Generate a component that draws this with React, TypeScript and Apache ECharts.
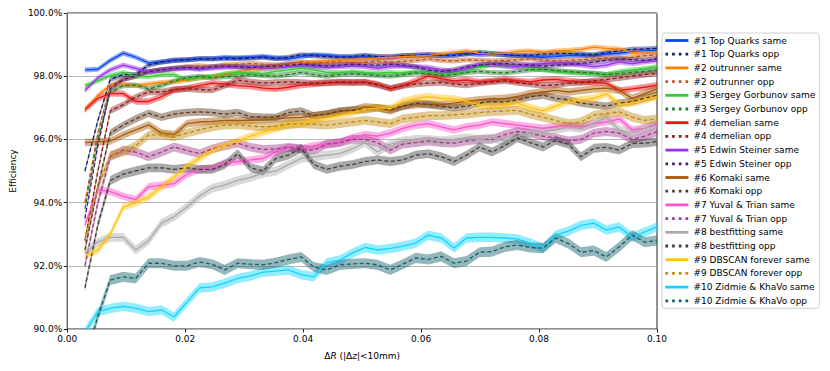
import React, { useEffect, useRef } from "react";
import * as echarts from "echarts";

const deltaR = [
  0.003, 0.0052, 0.0073, 0.0095, 0.0116, 0.0138, 0.016, 0.0181, 0.0203, 0.0224,
  0.0246, 0.0267, 0.0289, 0.0311, 0.0332, 0.0354, 0.0375, 0.0397, 0.0418, 0.044,
  0.0462, 0.0483, 0.0505, 0.0526, 0.0548, 0.0569, 0.0591, 0.0612, 0.0634, 0.0656,
  0.0677, 0.0699, 0.072, 0.0742, 0.0763, 0.0785, 0.0807, 0.0828, 0.085, 0.0871,
  0.0893, 0.0914, 0.0936, 0.0958, 0.0979, 0.1,
];

const topQuarksSame = [
  98.2, 98.22, 98.5, 98.73, 98.6, 98.42, 98.45, 98.5, 98.52, 98.55,
  98.55, 98.6, 98.58, 98.6, 98.62, 98.58, 98.55, 98.62, 98.68, 98.66,
  98.62, 98.6, 98.62, 98.6, 98.62, 98.65, 98.66, 98.68, 98.65, 98.7,
  98.72, 98.68, 98.7, 98.68, 98.66, 98.62, 98.6, 98.62, 98.65, 98.66,
  98.65, 98.7, 98.72, 98.78, 98.8, 98.82,
];
const topQuarksOpp = [
  95.0, 96.6, 97.9, 98.05, 98.05, 98.35, 98.45, 98.5, 98.52, 98.55,
  98.55, 98.55, 98.56, 98.57, 98.6, 98.55, 98.6, 98.68, 98.65, 98.62,
  98.6, 98.62, 98.66, 98.62, 98.6, 98.65, 98.66, 98.68, 98.66, 98.65,
  98.7, 98.76, 98.72, 98.68, 98.65, 98.66, 98.7, 98.72, 98.72, 98.7,
  98.68, 98.75, 98.8, 98.85, 98.86, 98.88,
];
const outrunnerSame = [
  96.9, 97.4, 97.7, 97.75, 97.7, 97.75, 97.8, 97.82, 97.88, 97.94,
  97.98, 98.05, 98.13, 98.2, 98.25, 98.3, 98.35, 98.42, 98.45, 98.47,
  98.5, 98.52, 98.55, 98.58, 98.6, 98.62, 98.64, 98.66, 98.7, 98.74,
  98.8, 98.72, 98.7, 98.72, 98.78, 98.8, 98.76, 98.8, 98.82, 98.85,
  98.92, 98.88, 98.86, 98.75, 98.78, 98.77,
];
const outrunnerOpp = [
  94.0, 96.2, 97.7, 97.9, 98.0, 98.15, 98.2, 98.25, 98.3, 98.33,
  98.3, 98.35, 98.38, 98.4, 98.38, 98.35, 98.4, 98.45, 98.42, 98.43,
  98.45, 98.42, 98.45, 98.48, 98.45, 98.47, 98.5, 98.55, 98.5, 98.48,
  98.52, 98.5, 98.48, 98.5, 98.52, 98.55, 98.5, 98.48, 98.5, 98.52,
  98.55, 98.58, 98.55, 98.6, 98.65, 98.68,
];
const sergeySame = [
  97.7, 97.85, 98.02, 98.12, 98.0, 97.98, 98.05, 98.05, 97.88, 97.95,
  98.0, 98.08, 98.12, 98.1, 98.08, 98.15, 98.2, 98.26, 98.2, 98.12,
  98.12, 98.15, 98.12, 98.1, 98.12, 98.1, 98.15, 98.12, 98.05, 98.1,
  98.15, 98.3, 98.35, 98.32, 98.3, 98.25, 98.2, 98.15, 98.12, 98.1,
  98.08, 98.05, 98.15, 98.2, 98.25, 98.3,
];
const sergeyOpp = [
  93.8, 96.0, 97.5, 97.7, 97.72, 97.6, 97.7, 97.85, 97.95, 98.0,
  97.95, 97.98, 98.0, 98.05, 98.02, 98.0, 98.05, 98.12, 98.05, 98.0,
  98.05, 98.08, 98.05, 98.02, 98.0, 98.05, 98.1, 98.08, 98.02, 98.05,
  98.12, 98.15, 98.12, 98.1, 98.15, 98.2, 98.22, 98.18, 98.15, 98.12,
  98.1, 98.05, 98.08, 98.12, 98.15, 98.2,
];
const demelianSame = [
  96.95, 97.3, 97.45, 97.45, 97.2, 97.2, 97.35, 97.56, 97.62, 97.7,
  97.78, 97.75, 97.7, 97.68, 97.62, 97.6, 97.65, 97.72, 97.75, 97.78,
  97.8, 97.8, 97.82, 97.75, 97.6, 97.7, 97.85, 98.0, 97.92, 97.85,
  97.88, 97.82, 97.85, 97.9, 97.85, 97.82, 97.88, 97.9, 97.85, 97.82,
  97.8, 97.78, 97.55, 97.6, 97.65, 97.72,
];
const demelianOpp = [
  92.8, 95.0, 96.9, 97.1, 97.34, 97.5, 97.5, 97.58, 97.6, 97.58,
  97.56, 97.7, 97.88, 97.82, 97.78, 97.8, 97.82, 97.8, 97.78, 97.8,
  97.82, 97.8, 97.8, 97.72, 97.62, 97.7, 97.75, 97.78, 97.8, 97.75,
  97.72, 97.78, 97.82, 97.85, 97.8, 97.75, 97.7, 97.72, 97.78, 97.8,
  97.85, 97.9, 97.95, 98.0, 98.05, 98.1,
];
const edwinSame = [
  97.55, 97.95, 98.2, 98.35, 98.25, 98.13, 98.2, 98.22, 98.25, 98.22,
  98.25, 98.28, 98.3, 98.28, 98.25, 98.28, 98.32, 98.35, 98.3, 98.28,
  98.3, 98.32, 98.3, 98.25, 98.3, 98.32, 98.3, 98.28, 98.2, 98.15,
  98.25, 98.35, 98.38, 98.32, 98.3, 98.35, 98.4, 98.42, 98.4, 98.35,
  98.3, 98.35, 98.45, 98.4, 98.45, 98.5,
];
const edwinOpp = [
  93.5, 95.8, 97.6, 97.9, 98.0, 98.15, 98.2, 98.25, 98.28, 98.25,
  98.3, 98.32, 98.3, 98.28, 98.3, 98.32, 98.35, 98.38, 98.35, 98.32,
  98.35, 98.38, 98.36, 98.35, 98.38, 98.35, 98.3, 98.2, 98.15, 98.2,
  98.3, 98.35, 98.38, 98.4, 98.38, 98.35, 98.32, 98.35, 98.38, 98.4,
  98.45, 98.5, 98.55, 98.52, 98.5, 98.55,
];
const komakiSame = [
  95.9, 95.92, 95.95, 96.14, 96.3, 96.46, 96.2, 96.15, 96.5, 96.55,
  96.57, 96.6, 96.6, 96.6, 96.62, 96.65, 96.68, 96.7, 96.75, 96.8,
  96.88, 96.93, 97.03, 97.0, 96.9, 97.05, 97.1, 97.12, 97.1, 97.15,
  97.2, 97.25, 97.28, 97.3, 97.35, 97.45, 97.5, 97.55, 97.5, 97.55,
  97.6, 97.62, 97.55, 97.3, 97.45, 97.6,
];
const komakiOpp = [
  92.5, 94.5, 96.2, 96.45, 96.65, 96.83, 96.7, 96.8, 96.85, 96.87,
  96.85, 96.8, 96.85, 96.72, 96.7, 96.7, 96.85, 96.9, 96.75, 96.8,
  96.9, 96.92, 96.95, 97.0, 96.95, 97.05, 97.15, 97.1, 97.05, 97.0,
  97.05, 97.15, 97.2, 97.18, 97.25, 97.35, 97.4, 97.3, 97.25, 97.15,
  97.1, 97.05, 97.15, 97.2, 97.3, 97.4,
];
const yuvalSame = [
  93.3, 94.4, 94.35, 94.2, 94.1, 94.5, 94.55, 94.6, 94.9, 95.05,
  95.1, 95.25, 95.3, 95.35, 95.4, 95.6, 95.75, 95.7, 95.8, 95.85,
  95.9, 96.05, 96.15, 96.1, 96.2, 96.35, 96.45, 96.5, 96.4, 96.3,
  96.4, 96.45, 96.55, 96.5, 96.45, 96.4, 96.35, 96.4, 96.45, 96.4,
  96.5, 96.55, 96.65, 96.3, 96.35, 96.5,
];
const yuvalOpp = [
  92.0, 94.0, 95.45, 95.66, 95.6, 95.45, 95.6, 95.76, 95.65, 95.55,
  95.7, 95.8, 95.88, 95.75, 95.68, 95.7, 95.75, 95.7, 95.65, 95.85,
  95.9, 96.0, 96.0, 95.9, 95.66, 95.85, 95.9, 95.95, 95.9, 95.88,
  95.95, 96.0, 96.0, 96.15, 96.25, 96.2, 96.1, 96.05, 95.95, 96.0,
  96.2, 96.25, 96.2, 96.0, 96.1, 96.25,
];
const bestfittingSame = [
  92.4, 92.75, 92.9, 92.9, 92.5, 92.8, 93.35, 93.55, 93.86, 94.2,
  94.46, 94.55, 94.7, 94.8, 94.93, 95.0, 95.2, 95.4, 95.45, 95.5,
  95.55, 95.7, 95.9, 95.6, 95.85, 95.95, 96.0, 96.0, 95.95, 96.0,
  96.05, 96.0, 96.05, 95.95, 96.1, 96.2, 96.25, 96.3, 96.4, 96.35,
  96.5, 96.7, 96.3, 96.2, 96.35, 96.45,
];
const bestfittingOpp = [
  91.3, 93.3, 94.7, 94.9, 95.0, 95.1, 95.1, 95.05, 95.1, 95.05,
  95.05, 95.2, 95.55, 95.1, 95.0, 95.4, 95.5, 95.72, 95.2, 95.05,
  95.15, 95.2, 95.3, 95.35, 95.3, 95.35, 95.5, 95.55, 95.45, 95.3,
  95.5, 95.76, 95.6, 95.8, 96.05, 95.9, 95.76, 95.97, 95.85, 95.45,
  95.72, 95.75, 95.66, 95.87, 95.88, 95.93,
];
const dbscanSame = [
  92.3, 92.5, 93.0, 93.86, 94.0, 94.18, 94.5, 94.8, 95.15, 95.4,
  95.66, 95.8, 95.95, 96.1, 96.23, 96.35, 96.45, 96.5, 96.6, 96.68,
  96.75, 96.85, 96.95, 97.0, 96.98, 97.2, 97.3, 97.35, 97.3, 97.28,
  97.2, 97.1, 97.05, 97.1, 97.15, 97.0, 96.9, 97.05, 97.2, 97.25,
  97.3, 97.45, 97.1, 97.15, 97.25, 97.35,
];
const dbscanOpp = [
  92.8, 94.5, 95.5, 95.6, 95.8, 96.14, 96.15, 96.08, 96.2, 96.3,
  96.4, 96.45, 96.47, 96.42, 96.4, 96.42, 96.48, 96.5, 96.48, 96.45,
  96.5, 96.55, 96.6, 96.55, 96.5, 96.65, 96.7, 96.75, 96.75, 96.78,
  96.8, 96.85, 96.88, 96.9, 96.92, 96.8, 96.7, 96.6, 96.5, 96.55,
  96.77, 96.82, 96.87, 96.7, 96.6, 96.65,
];
const zidmieSame = [
  89.9, 90.55, 90.65, 90.72, 90.66, 90.55, 90.6, 90.38, 90.85, 91.3,
  91.33, 91.45, 91.6, 91.68, 91.8, 91.83, 91.87, 91.72, 91.65, 92.1,
  92.18, 92.4, 92.58, 92.5, 92.55, 92.62, 92.72, 92.97, 92.88, 92.56,
  92.88, 92.9, 92.9, 92.88, 92.85, 92.72, 92.56, 92.97, 93.1, 93.28,
  93.35, 93.13, 93.23, 92.9, 93.07, 93.23,
];
const zidmieOpp = [
  89.0, 90.4, 91.55, 91.65, 91.6, 92.08, 92.08, 92.0, 92.0, 92.12,
  92.05, 91.87, 92.08, 92.05, 92.03, 92.1, 92.2, 92.28, 91.96, 91.87,
  92.03, 92.06, 92.08, 92.03, 91.87, 92.05, 92.25, 92.2, 92.3, 92.08,
  92.15, 92.43, 92.45, 92.6, 92.66, 92.58, 92.56, 92.88, 92.7, 92.43,
  92.48, 92.28, 92.6, 92.97, 92.75, 92.8,
];

// uncertainty band half-widths (percentage points)
const bandHalfWidths = [
  0.08, 0.08, 0.08, 0.08, 0.08, 0.08, 0.1, 0.1, 0.08, 0.08,
  0.12, 0.12, 0.12, 0.14, 0.14, 0.14, 0.12, 0.14, 0.15, 0.16,
];

const teamNames = [
  "#1 Top Quarks", "#2 outrunner", "#3 Sergey Gorbunov", "#4 demelian",
  "#5 Edwin Steiner", "#6 Komaki", "#7 Yuval & Trian", "#8 bestfitting",
  "#9 DBSCAN forever", "#10 Zidmie & KhaVo",
];
const seriesValues = [
  topQuarksSame, topQuarksOpp, outrunnerSame, outrunnerOpp, sergeySame, sergeyOpp,
  demelianSame, demelianOpp, edwinSame, edwinOpp, komakiSame, komakiOpp,
  yuvalSame, yuvalOpp, bestfittingSame, bestfittingOpp, dbscanSame, dbscanOpp,
  zidmieSame, zidmieOpp,
];
const seriesColors = [
  "#0a43ff", "#10206e", "#ff8000", "#c0561a", "#33cc33", "#227a2a",
  "#ee1111", "#8b1a1a", "#9933ee", "#4b1a7a", "#a85a0a", "#5e3a1e",
  "#ff55cc", "#a23b8c", "#aaaaaa", "#404040", "#ffc20e", "#c08a10",
  "#11d4ff", "#145f6b",
];
const yTickValues = [90, 92, 94, 96, 98, 100];
const xTickValues = [0, 0.02, 0.04, 0.06, 0.08, 0.1];

const FONT = "DejaVu Sans";

function rgba(hex: string, a: number) {
  const n = parseInt(hex.slice(1), 16);
  return `rgba(${(n >> 16) & 255},${(n >> 8) & 255},${n & 255},${a})`;
}

export default function App() {
  const ref = useRef<HTMLDivElement>(null);
  useEffect(() => {
    if (!ref.current) return;
    const chart = echarts.init(ref.current, null, { renderer: "svg" });
    const defs = seriesValues.map((vals, k) => ({
      name: `${teamNames[Math.floor(k / 2)]} ${k % 2 === 0 ? "same" : "opp"}`,
      vals,
      color: seriesColors[k],
      dashed: k % 2 === 1,
      half: bandHalfWidths[k],
    }));
    const series: any[] = [];
    defs.forEach((d, k) => {
      series.push({
        type: "custom",
        name: `band-${k}`,
        clip: true,
        silent: true,
        data: deltaR.map((x, i) => [x, d.vals[i] - d.half, d.vals[i] + d.half]),
        encode: { x: 0, y: [1, 2] },
        renderItem: (params: any, api: any) => {
          if (params.dataIndex !== 0) return null;
          const up = deltaR.map((x, i) => api.coord([x, d.vals[i] + d.half]));
          const lo = deltaR.map((x, i) => api.coord([x, d.vals[i] - d.half])).reverse();
          return {
            type: "polygon",
            shape: { points: up.concat(lo) },
            style: { fill: rgba(d.color, 0.45), stroke: "none" },
          };
        },
      });
      series.push({
        type: "line",
        name: d.name,
        data: deltaR.map((x, i) => [x, d.vals[i]]),
        symbol: "none",
        showSymbol: false,
        clip: true,
        silent: true,
        lineStyle: {
          color: d.color,
          width: 1.3,
          type: d.dashed ? [4, 2.5] : "solid",
        },
        itemStyle: { color: d.color },
      });
    });

    chart.setOption({
      animation: false,
      textStyle: { fontFamily: FONT },
      grid: {
        left: 62, right: 173, top: 13, bottom: 42,
        show: true, borderColor: "#222", borderWidth: 1, backgroundColor: "transparent",
      },
      xAxis: {
        type: "value", min: xTickValues[0], max: xTickValues[xTickValues.length - 1], interval: 0.02,
        axisLine: { show: false },
        axisTick: { show: true, length: 3.5, lineStyle: { color: "#222" } },
        axisLabel: { fontSize: 9, color: "#000", margin: 5, fontFamily: FONT, formatter: (v: number) => v.toFixed(2) },
        splitLine: { show: false },
        name: "{d|Δ}{i|R} (|Δ{i|z}|<10mm)",
        nameLocation: "middle",
        nameGap: 22,
        nameTextStyle: {
          fontSize: 9, color: "#000", fontFamily: FONT,
          rich: { i: { fontStyle: "italic", fontSize: 9, fontFamily: FONT, color: "#000" }, d: { fontSize: 9, fontFamily: FONT, color: "#000" } },
        },
      },
      yAxis: {
        type: "value", min: yTickValues[0], max: yTickValues[yTickValues.length - 1], interval: 2,
        axisLine: { show: false },
        axisTick: { show: true, length: 3.5, lineStyle: { color: "#222" } },
        axisLabel: { fontSize: 9, color: "#000", margin: 5, fontFamily: FONT, formatter: (v: number) => v.toFixed(1) + "%" },
        splitLine: { show: true, lineStyle: { color: "#b8b8b8", width: 1 } },
        name: "Efficiency",
        nameLocation: "middle",
        nameRotate: 90,
        nameGap: 45,
        nameTextStyle: { fontSize: 9, color: "#000", fontFamily: FONT },
      },
      legend: {
        orient: "vertical",
        left: 662,
        top: 33,
        padding: [3, 4, 3, 2],
        itemWidth: 23,
        itemHeight: 9,
        itemGap: 4.7,
        selectedMode: false,
        backgroundColor: "#ffffff",
        borderColor: "#d0d0d0",
        borderWidth: 1,
        borderRadius: 3,
        textStyle: { fontSize: 9, lineHeight: 9, color: "#000", fontFamily: FONT },
        data: defs.map((d) => ({
          name: d.name,
          itemStyle: { opacity: 0 },
          lineStyle: { color: d.color, width: 2.8, type: d.dashed ? [2.7, 4] : "solid", cap: "butt", opacity: 1 },
        })),
      },
      series,
    });
    return () => chart.dispose();
  }, []);
  return <div ref={ref} style={{ position: "absolute", left: 0, top: 0, width: 830, height: 371 }} />;
}
